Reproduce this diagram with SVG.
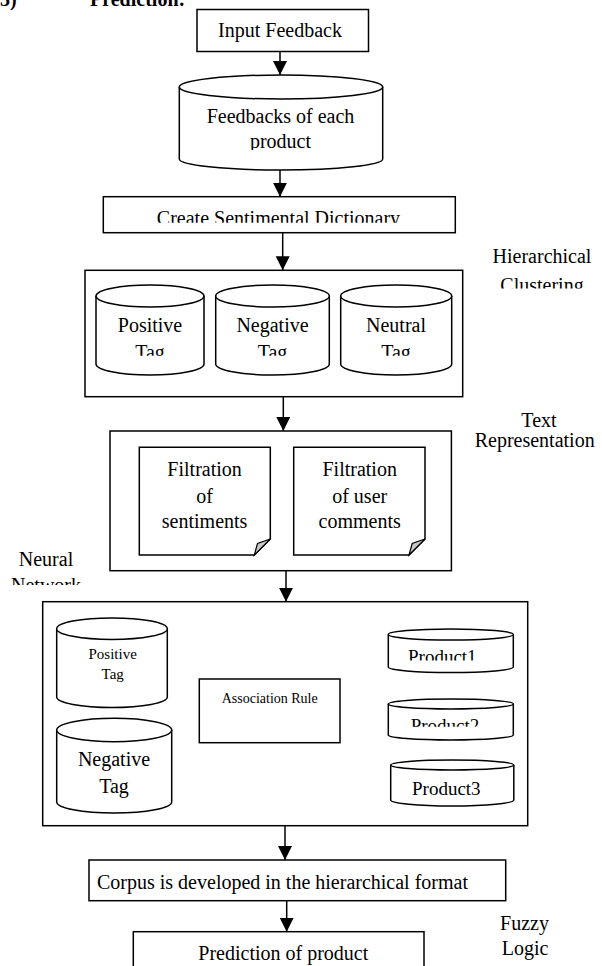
<svg xmlns="http://www.w3.org/2000/svg" width="602" height="966" viewBox="0 0 602 966">
  <style>
    .box { fill: #fff; stroke: #000; stroke-width: 1.5; }
    .edge { fill: none; stroke: #000; stroke-width: 1.5; }
    .t { font-family: "Liberation Serif", "Times New Roman", serif; font-size: 20px; fill: #000; text-anchor: middle; }
    .s14 { font-size: 14px; }
    .s15 { font-size: 15px; }
    .s19 { font-size: 19px; }
    .head { font-family: "Liberation Serif", "Times New Roman", serif; font-size: 20px; font-weight: bold; fill: #000; }
    .fold { fill: #c8c8c8; stroke: #000; stroke-width: 1.2; }
  </style>
  <defs>
    <marker id="arrow" markerUnits="userSpaceOnUse" markerWidth="15" markerHeight="15" refX="14" refY="7" orient="auto">
      <path d="M0,0 L14,7 L0,14 Z" fill="#000"/>
    </marker>
    <!-- clip regions for labels that overflow their text frames -->
    <clipPath id="clipProduct"><rect x="180" y="100" width="200" height="50"/></clipPath>
    <clipPath id="clipDict"><rect x="105" y="198" width="348" height="24.7"/></clipPath>
    <clipPath id="clipTags"><rect x="90" y="300" width="370" height="55.7"/></clipPath>
    <clipPath id="clipClust"><rect x="470" y="240" width="132" height="48.5"/></clipPath>
    <clipPath id="clipNet"><rect x="0" y="570" width="100" height="15"/></clipPath>
    <clipPath id="clipP1"><rect x="390" y="640" width="122" height="20.5"/></clipPath>
    <clipPath id="clipP2"><rect x="390" y="710" width="122" height="16.7"/></clipPath>
    <clipPath id="clipP3"><rect x="392" y="770" width="120" height="25"/></clipPath>
  </defs>

  <!-- section heading -->
  <g id="heading">
    <text class="head" x="0" y="6">3)</text>
    <text class="head" x="90" y="6">Prediction:</text>
  </g>

  <!-- side labels -->
  <g id="label-clustering">
    <text class="t" x="542" y="263.3">Hierarchical</text>
    <text class="t" x="542" y="291.5" clip-path="url(#clipClust)">Clustering</text>
  </g>
  <g id="label-textrep">
    <text class="t" x="539" y="426.7">Text</text>
    <text class="t" x="534.7" y="446.7">Representation</text>
  </g>
  <g id="label-neural">
    <text class="t" x="46" y="565.7">Neural</text>
    <text class="t" x="46" y="592" clip-path="url(#clipNet)">Network</text>
  </g>
  <g id="label-fuzzy">
    <text class="t" x="524.5" y="930">Fuzzy</text>
    <text class="t" x="525" y="955">Logic</text>
  </g>

  <!-- connectors -->
  <g id="connectors">
    <line class="edge" x1="280" y1="51.5" x2="280" y2="75" marker-end="url(#arrow)"/>
    <line class="edge" x1="280" y1="170" x2="280" y2="196.7" marker-end="url(#arrow)"/>
    <line class="edge" x1="282.7" y1="232.7" x2="282.7" y2="270.3" marker-end="url(#arrow)"/>
    <line class="edge" x1="283.3" y1="396.7" x2="283.3" y2="431" marker-end="url(#arrow)"/>
    <line class="edge" x1="286" y1="570.7" x2="286" y2="601.7" marker-end="url(#arrow)"/>
    <line class="edge" x1="168.3" y1="656.7" x2="199.3" y2="678.5" marker-end="url(#arrow)"/>
    <line class="edge" x1="171.7" y1="770.7" x2="201.5" y2="742.7" marker-end="url(#arrow)"/>
    <line class="edge" x1="340" y1="678.3" x2="388.3" y2="656.7" marker-end="url(#arrow)"/>
    <line class="edge" x1="338" y1="717.3" x2="388.3" y2="717.3" marker-end="url(#arrow)"/>
    <line class="edge" x1="340" y1="741.7" x2="390.5" y2="780" marker-end="url(#arrow)"/>
    <line class="edge" x1="285" y1="825.7" x2="285" y2="860" marker-end="url(#arrow)"/>
    <line class="edge" x1="286.7" y1="900.7" x2="286.7" y2="931.7" marker-end="url(#arrow)"/>
  </g>

  <!-- top of flow -->
  <g id="input-feedback">
    <rect class="box" x="197" y="9.5" width="171.5" height="42"/>
    <text class="t" x="280" y="37.3">Input Feedback</text>
  </g>

  <g id="feedbacks-store">
    <path class="box" d="M179.3,87 V159 A101.7,11 0 0 0 382.7,159 V87"/>
    <ellipse class="box" cx="281" cy="87" rx="101.7" ry="12"/>
    <text class="t" x="280.5" y="122.7">Feedbacks of each</text>
    <text class="t" x="280.5" y="148" clip-path="url(#clipProduct)">product</text>
  </g>

  <g id="sentiment-dictionary">
    <rect class="box" x="103.3" y="196.7" width="352" height="36"/>
    <text class="t" x="278.5" y="225" clip-path="url(#clipDict)">Create Sentimental Dictionary</text>
  </g>

  <!-- hierarchical clustering stage -->
  <g id="clustering">
    <rect class="box" x="85" y="270.3" width="377.7" height="126.4"/>
    <g id="tag-positive">
      <path class="box" d="M96,296 V364 A54,11 0 0 0 204,364 V296"/>
      <ellipse class="box" cx="150" cy="296" rx="54" ry="11"/>
      <text class="t" x="150" y="331.7">Positive</text>
    </g>
    <g id="tag-negative">
      <path class="box" d="M215.7,296 V364 A56.8,11 0 0 0 329.3,364 V296"/>
      <ellipse class="box" cx="272.5" cy="296" rx="56.8" ry="11"/>
      <text class="t" x="272.5" y="331.7">Negative</text>
    </g>
    <g id="tag-neutral">
      <path class="box" d="M340.7,296 V364 A55.5,11 0 0 0 451.7,364 V296"/>
      <ellipse class="box" cx="396.2" cy="296" rx="55.5" ry="11"/>
      <text class="t" x="396" y="331.7">Neutral</text>
    </g>
    <g clip-path="url(#clipTags)">
      <text class="t" x="150" y="359.2">Tag</text>
      <text class="t" x="272.5" y="359.2">Tag</text>
      <text class="t" x="396" y="359.2">Tag</text>
    </g>
  </g>

  <!-- text representation stage -->
  <g id="text-representation">
    <rect class="box" x="110" y="431" width="341.4" height="139.7"/>
    <g id="filter-sentiments">
      <path class="box" d="M139.3,447.3 H270.3 V539 L254.3,555 H139.3 Z"/>
      <path class="fold" d="M254.3,555 L270.3,539 L257.5,543.5 Z"/>
      <text class="t" x="204.6" y="475.7">Filtration</text>
      <text class="t" x="204.6" y="502.7">of</text>
      <text class="t" x="204.6" y="528.3">sentiments</text>
    </g>
    <g id="filter-comments">
      <path class="box" d="M293.7,447.3 H425 V539 L409,555 H293.7 Z"/>
      <path class="fold" d="M409,555 L425,539 L412.2,543.5 Z"/>
      <text class="t" x="359.7" y="475.7">Filtration</text>
      <text class="t" x="359.7" y="502.7">of user</text>
      <text class="t" x="359.7" y="528.3">comments</text>
    </g>
  </g>

  <!-- neural network stage -->
  <g id="neural-network">
    <rect class="box" x="42.7" y="601.7" width="485" height="224"/>
    <g id="nn-positive">
      <path class="box" d="M56.7,628.7 V697 A55.3,10.5 0 0 0 167.3,697 V628.7"/>
      <ellipse class="box" cx="112" cy="628.7" rx="55.3" ry="10.8"/>
      <text class="t s15" x="112.7" y="659.3">Positive</text>
      <text class="t s15" x="112.7" y="679.3">Tag</text>
    </g>
    <g id="nn-negative">
      <path class="box" d="M56.7,730 V802 A57.5,11 0 0 0 171.7,802 V730"/>
      <ellipse class="box" cx="114.2" cy="730" rx="57.5" ry="11.7"/>
      <text class="t" x="114" y="766">Negative</text>
      <text class="t" x="114" y="792.7">Tag</text>
    </g>
    <g id="association-rule">
      <rect class="box" x="199.3" y="679" width="140.7" height="63.7"/>
      <text class="t s14" x="269.7" y="703.3">Association Rule</text>
    </g>
    <g id="product1">
      <path class="box" d="M388.3,634.5 V667 A62.5,5.5 0 0 0 513.3,667 V634.5"/>
      <ellipse class="box" cx="450.8" cy="634.5" rx="62.5" ry="5.5"/>
      <text class="t s19" x="442.3" y="663.3" clip-path="url(#clipP1)">Product1</text>
    </g>
    <g id="product2">
      <path class="box" d="M388.3,704 V735 A62.5,5 0 0 0 513.3,735 V704"/>
      <ellipse class="box" cx="450.8" cy="704" rx="62.5" ry="5"/>
      <text class="t s19" x="445" y="732" clip-path="url(#clipP2)">Product2</text>
    </g>
    <g id="product3">
      <path class="box" d="M390.7,765 V800 A61.5,6 0 0 0 513.8,800 V765"/>
      <ellipse class="box" cx="452.2" cy="765" rx="61.5" ry="5"/>
      <text class="t s19" x="446.3" y="794.5" clip-path="url(#clipP3)">Product3</text>
    </g>
  </g>

  <!-- closing steps -->
  <g id="corpus">
    <rect class="box" x="89" y="860" width="416.7" height="40.7"/>
    <text class="t" x="282.5" y="889.3">Corpus is developed in the hierarchical format</text>
  </g>
  <g id="prediction">
    <rect class="box" x="133.3" y="931.7" width="290.7" height="50"/>
    <text class="t" x="283.3" y="960">Prediction of product</text>
  </g>
</svg>
